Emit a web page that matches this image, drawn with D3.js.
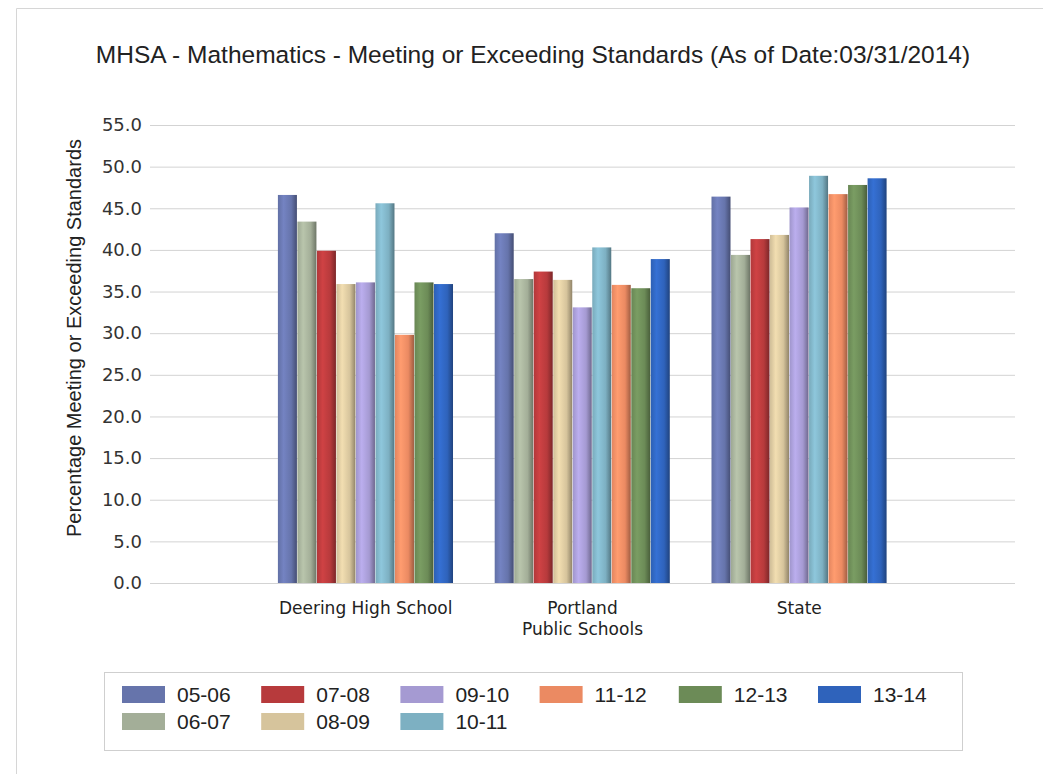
<!DOCTYPE html>
<html>
<head>
<meta charset="utf-8">
<script src="https://cdn.jsdelivr.net/npm/d3@7"></script>
<style>
  body { margin: 0; background: #fff; }
  svg { display: block; }
</style>
</head>
<body>
<div id="chart"></div>
<script>

// --> DATA
var categories = ["Deering High School", "Portland\nPublic Schools", "State"];
var seasons = ["05-06", "06-07", "07-08", "08-09", "09-10", "10-11", "11-12", "12-13", "13-14"];
var seasonColors = ["#6674ab", "#a3ae98", "#b73a3c", "#d6c49c", "#a59ad2", "#7db0c2", "#eb8a62", "#6c8b57", "#2f63bb"];

// one array per season : Deering, Portland, State
var v0506 = [46.6, 42.0, 46.4];
var v0607 = [43.4, 36.5, 39.4];
var v0708 = [39.9, 37.4, 41.3];
var v0809 = [35.9, 36.4, 41.8];
var v0910 = [36.1, 33.1, 45.1];
var v1011 = [45.6, 40.3, 48.9];
var v1112 = [29.8, 35.8, 46.7];
var v1213 = [36.1, 35.4, 47.8];
var v1314 = [35.9, 38.9, 48.6];
var seriesValues = [v0506, v0607, v0708, v0809, v0910, v1011, v1112, v1213, v1314];

var yTicks = [0, 5, 10, 15, 20, 25, 30, 35, 40, 45, 50, 55];

// legend rows as drawn in the original
var legendRows = [["05-06", "07-08", "09-10", "11-12", "12-13", "13-14"], ["06-07", "08-09", "10-11"]];


var width = 1043, height = 774;

var svg = d3.select("#chart").append("svg")
    .attr("width", width)
    .attr("height", height);

// outer frame
svg.append("path")
    .attr("d", "M16.5," + height + "V8.5H" + width)
    .attr("fill", "none")
    .attr("stroke", "#d6d6d6");

// title
svg.append("text")
    .attr("x", 533)
    .attr("y", 63)
    .attr("text-anchor", "middle")
    .style("font-family", "'Liberation Sans', Arial, sans-serif")
    .style("font-size", "24.5px")
    .style("fill", "#222")
    .text("MHSA - Mathematics - Meeting or Exceeding Standards (As of Date:03/31/2014)");

var plotLeft = 150, plotRight = 1015;

var y = d3.scaleLinear().domain([0, 55]).range([583, 125]);

var x = d3.scaleBand()
    .domain(categories)
    .range([plotLeft, plotRight])
    .paddingInner(0.19)
    .paddingOuter(0.59);

var xs = d3.scaleBand()
    .domain(seasons)
    .range([0, x.bandwidth()]);

// gridlines
var yAxis = d3.axisLeft(y)
    .tickValues(yTicks)
    .tickSize(-(plotRight - plotLeft))
    .tickPadding(8)
    .tickFormat(d3.format(".1f"));

var gAxis = svg.append("g")
    .attr("transform", "translate(" + plotLeft + ",0)")
    .call(yAxis);

gAxis.select(".domain").remove();
gAxis.selectAll(".tick line").attr("stroke", "#d3d3d3");
gAxis.selectAll(".tick text")
    .style("font-family", "'DejaVu Sans', Verdana, sans-serif")
    .style("font-size", "18px")
    .style("fill", "#333");

// y label
svg.append("text")
    .attr("transform", "translate(81,338) rotate(-90)")
    .attr("text-anchor", "middle")
    .style("font-family", "'Liberation Sans', Arial, sans-serif")
    .style("font-size", "20px")
    .style("fill", "#222")
    .text("Percentage Meeting or Exceeding Standards");

// gradients for shaded bars
var defs = svg.append("defs");
seasons.forEach(function(s, i) {
    var c = seasonColors[i];
    var grad = defs.append("linearGradient")
        .attr("id", "grad" + i)
        .attr("x1", "0%").attr("x2", "100%")
        .attr("y1", "0%").attr("y2", "0%");
    grad.append("stop").attr("offset", "0%").attr("stop-color", d3.color(c).darker(0.1));
    grad.append("stop").attr("offset", "30%").attr("stop-color", d3.color(c).brighter(0.35));
    grad.append("stop").attr("offset", "70%").attr("stop-color", c);
    grad.append("stop").attr("offset", "100%").attr("stop-color", d3.color(c).darker(1.1));
});

// bars
var groups = svg.selectAll(".cat")
    .data(categories)
    .enter().append("g")
    .attr("class", "cat")
    .attr("transform", function(d) { return "translate(" + x(d) + ",0)"; });

groups.selectAll("rect")
    .data(function(d, ci) {
        return seasons.map(function(s, si) { return {season: s, idx: si, value: seriesValues[si][ci]}; });
    })
    .enter().append("rect")
    .attr("x", function(d) { return xs(d.season); })
    .attr("width", xs.bandwidth() - 0.5)
    .attr("y", function(d) { return y(d.value); })
    .attr("height", function(d) { return y(0) - y(d.value); })
    .attr("fill", function(d) { return "url(#grad" + d.idx + ")"; });

// category labels
groups.append("text")
    .attr("x", x.bandwidth() / 2)
    .attr("y", 614)
    .attr("text-anchor", "middle")
    .style("font-family", "'DejaVu Sans', Verdana, sans-serif")
    .style("font-size", "17px")
    .style("fill", "#222")
    .each(function(d) {
        var lines = d.split("\n");
        var t = d3.select(this);
        lines.forEach(function(l, i) {
            t.append("tspan")
                .attr("x", x.bandwidth() / 2)
                .attr("dy", i === 0 ? 0 : 21)
                .text(l);
        });
    });

// legend
svg.append("rect")
    .attr("x", 104.5)
    .attr("y", 672.5)
    .attr("width", 858)
    .attr("height", 78)
    .attr("fill", "none")
    .attr("stroke", "#cfcfcf");

legendRows.forEach(function(row, r) {
    var items = svg.selectAll(".leg" + r)
        .data(row)
        .enter().append("g")
        .attr("class", "leg" + r)
        .attr("transform", function(d, i) { return "translate(" + (122 + i * 139.2) + "," + (686 + r * 27) + ")"; });

    items.append("rect")
        .attr("width", 43)
        .attr("height", 17)
        .attr("fill", function(d) { return seasonColors[seasons.indexOf(d)]; });

    items.append("text")
        .attr("x", 55)
        .attr("y", 16)
        .style("font-family", "'Liberation Sans', Arial, sans-serif")
        .style("font-size", "21px")
        .style("fill", "#222")
        .text(function(d) { return d; });
});

</script>
</body>
</html>
